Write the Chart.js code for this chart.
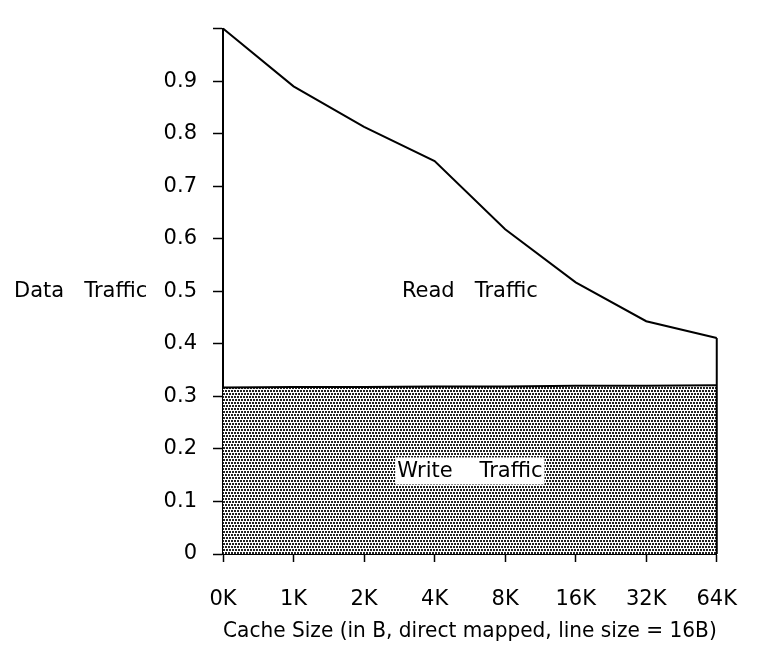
<!DOCTYPE html>
<html>
<head>
<meta charset="utf-8">
<script src="https://cdn.jsdelivr.net/npm/chart.js@4/dist/chart.umd.min.js"></script>
<style>
  html, body { margin: 0; padding: 0; background: #fff; }
  #wrap { width: 762px; height: 645px; }
</style>
</head>
<body>
<div id="wrap"><canvas id="trafficChart" width="762" height="645"></canvas></div>
<script>
// data
const cacheSizes = ['0K', '1K', '2K', '4K', '8K', '16K', '32K', '64K'];
const totalTraffic = [1.0, 0.89, 0.813, 0.748, 0.618, 0.517, 0.443, 0.411];
const writeTraffic = [0.317, 0.318, 0.318, 0.319, 0.319, 0.32, 0.32, 0.321];
const yTicks = [0, 0.1, 0.2, 0.3, 0.4, 0.5, 0.6, 0.7, 0.8, 0.9];

const FONT = 'DejaVu Sans';

// dotted fill for the write area
function dotPattern() {
    const c = document.createElement('canvas');
    c.width = 6;
    c.height = 6;
    const g = c.getContext('2d');
    g.fillStyle = '#fff';
    g.fillRect(0, 0, 6, 6);
    g.fillStyle = '#222';
    g.fillRect(0, 0, 2, 2);
    g.fillRect(3, 0, 2, 2);
    g.fillRect(1, 3, 2, 2);
    g.fillRect(4, 3, 2, 2);
    return g.createPattern(c, 'repeat');
}

// text labels and the closing edge at 64K
const annotations = {
    id: 'annotations',
    afterDatasetsDraw(chart) {
        const { ctx, scales: { x, y } } = chart;
        const last = cacheSizes.length - 1;
        ctx.save();
        ctx.strokeStyle = '#000';
        ctx.lineWidth = 2;
        ctx.beginPath();
        ctx.moveTo(x.getPixelForValue(last), y.getPixelForValue(totalTraffic[last]));
        ctx.lineTo(x.getPixelForValue(last), y.getPixelForValue(0));
        ctx.stroke();

        ctx.font = '21px "' + FONT + '"';
        ctx.fillStyle = '#000';
        ctx.textBaseline = 'middle';

        const midX = (x.getPixelForValue(3) + x.getPixelForValue(4)) / 2;
        ctx.textAlign = 'center';
        ctx.fillText('Read   Traffic', midX, y.getPixelForValue(0.5));

        const wText = 'Write    Traffic';
        const wy = y.getPixelForValue(0.159);
        const ww = ctx.measureText(wText).width;
        ctx.fillStyle = '#fff';
        ctx.fillRect(midX - ww / 2 - 2, wy - 13, ww + 4, 27);
        ctx.fillStyle = '#000';
        ctx.fillText(wText, midX, wy + 1);

        ctx.textAlign = 'left';
        ctx.fillText('Data   Traffic', 14, y.getPixelForValue(0.5));
        ctx.restore();
    }
};

const ctx = document.getElementById('trafficChart').getContext('2d');
const trafficChart = new Chart(ctx, {
    type: 'line',
    data: {
        labels: cacheSizes,
        datasets: [
            {
                label: 'Write Traffic',
                data: writeTraffic,
                fill: 'origin',
                backgroundColor: dotPattern(),
                borderColor: '#000',
                borderWidth: 2,
                pointRadius: 0,
                tension: 0
            },
            {
                label: 'Read Traffic',
                data: totalTraffic,
                fill: false,
                borderColor: '#000',
                borderWidth: 2,
                pointRadius: 0,
                tension: 0,
                clip: false
            }
        ]
    },
    options: {
        responsive: false,
        animation: false,
        layout: { padding: { top: 14, right: 20, left: 0, bottom: 0 } },
        plugins: {
            legend: { display: false },
            tooltip: { enabled: false }
        },
        scales: {
            x: {
                type: 'category',
                offset: false,
                afterFit: s => { s.height = 91; },
                grid: { drawOnChartArea: false, drawTicks: true, tickLength: 8, color: '#000', tickWidth: 1.5 },
                border: { color: '#000', width: 2 },
                ticks: { color: '#000', font: { family: FONT, size: 21 }, padding: 25, maxRotation: 0, autoSkip: false },
                title: {
                    display: true,
                    text: 'Cache Size (in B, direct mapped, line size = 16B)',
                    color: '#000',
                    font: { family: FONT, size: 21 },
                    padding: { top: 0, bottom: 1 }
                }
            },
            y: {
                min: 0,
                max: 1,
                afterFit: s => { s.width = 223; },
                afterBuildTicks: s => {
                    s.ticks = yTicks.concat([1]).map(v => ({ value: v }));
                },
                grid: { drawOnChartArea: false, drawTicks: true, tickLength: 10, color: '#000', tickWidth: 1.5 },
                border: { color: '#000', width: 2 },
                ticks: {
                    color: '#000',
                    font: { family: FONT, size: 21 },
                    padding: 16,
                    callback: v => (v === 1 ? '' : String(v))
                }
            }
        }
    },
    plugins: [annotations]
});
</script>
</body>
</html>
